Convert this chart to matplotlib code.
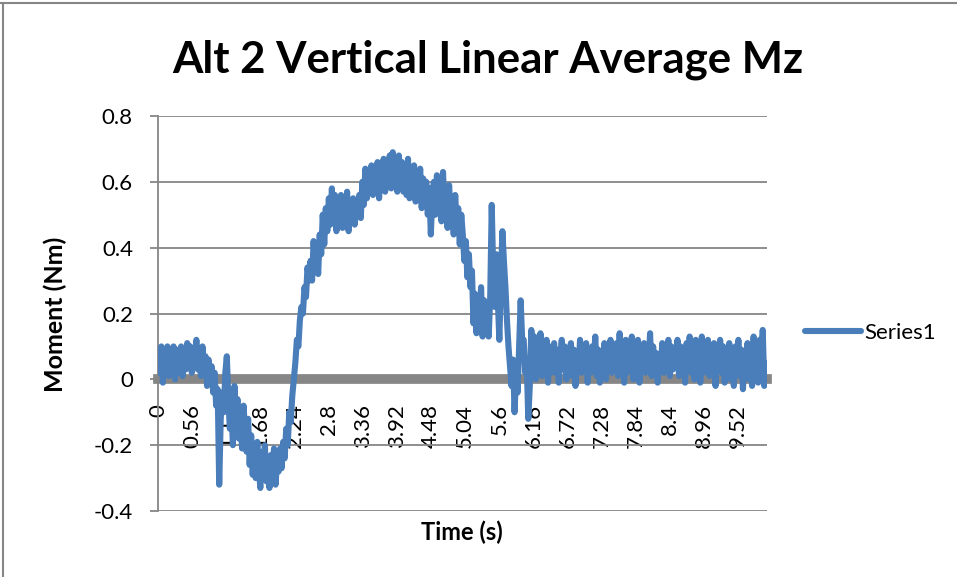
import matplotlib
matplotlib.use('Agg')
import matplotlib.pyplot as plt
from matplotlib.lines import Line2D
import numpy as np

# moment values, one every 0.025 s, 20 per row = 0.5 s
moment = [
    0.09, 0.02, 0.10, -0.01, 0.08, 0.03, 0.10, 0.01, 0.07, 0.04, 0.10, 0.00, 0.09, 0.02, 0.06, 0.10, 0.01, 0.08, 0.03, 0.11,
    0.04, 0.10, 0.02, 0.09, 0.05, 0.12, 0.03, 0.08, 0.01, 0.10, 0.04, 0.07, -0.02, 0.06, 0.00, 0.04, -0.04, 0.02, -0.08, -0.03,
    -0.32, -0.12, -0.04, -0.10, 0.02, 0.07, -0.06, -0.15, -0.08, -0.20, -0.02, -0.12, -0.06, -0.18, -0.10, -0.21, -0.08, -0.16, -0.22, -0.12,
    -0.26, -0.17, -0.29, -0.21, -0.30, -0.19, -0.27, -0.33, -0.22, -0.28, -0.20, -0.31, -0.24, -0.33, -0.23, -0.29, -0.21, -0.32, -0.25, -0.28,
    -0.21, -0.27, -0.19, -0.24, -0.15, -0.20, -0.10, -0.13, -0.05, 0.00, 0.05, 0.12, 0.10, 0.18, 0.22, 0.20, 0.28, 0.25, 0.34, 0.30,
    0.36, 0.30, 0.42, 0.34, 0.40, 0.32, 0.44, 0.38, 0.50, 0.41, 0.52, 0.45, 0.55, 0.47, 0.58, 0.49, 0.56, 0.45, 0.54, 0.47,
    0.56, 0.46, 0.53, 0.48, 0.57, 0.45, 0.52, 0.49, 0.55, 0.47, 0.53, 0.50, 0.56, 0.49, 0.60, 0.53, 0.64, 0.55, 0.62, 0.57,
    0.65, 0.56, 0.63, 0.58, 0.66, 0.55, 0.64, 0.59, 0.67, 0.57, 0.65, 0.60, 0.68, 0.58, 0.69, 0.60, 0.66, 0.57, 0.68, 0.59,
    0.66, 0.57, 0.64, 0.56, 0.67, 0.55, 0.63, 0.58, 0.65, 0.54, 0.62, 0.56, 0.64, 0.52, 0.61, 0.55, 0.60, 0.50, 0.58, 0.44,
    0.56, 0.60, 0.50, 0.62, 0.53, 0.59, 0.48, 0.63, 0.52, 0.57, 0.46, 0.59, 0.50, 0.55, 0.44, 0.56, 0.47, 0.52, 0.41, 0.50,
    0.44, 0.36, 0.42, 0.31, 0.38, 0.28, 0.33, 0.17, 0.26, 0.14, 0.22, 0.16, 0.28, 0.13, 0.24, 0.15, 0.22, 0.13, 0.25, 0.53,
    0.32, 0.22, 0.38, 0.24, 0.12, 0.30, 0.45, 0.36, 0.28, 0.18, 0.10, 0.04, -0.02, 0.06, -0.10, 0.02, -0.04, 0.10, 0.24, 0.12,
    0.12, 0.02, 0.05, -0.12, -0.02, 0.15, 0.03, 0.13, 0.00, 0.11, 0.04, 0.14, 0.01, 0.09, 0.03, 0.12, -0.01, 0.10, 0.02, 0.08,
    0.11, 0.02, 0.09, -0.01, 0.07, 0.12, 0.03, 0.10, 0.00, 0.08, 0.05, 0.11, 0.01, 0.09, -0.02, 0.07, 0.03, 0.12, 0.02, 0.10,
    0.04, 0.11, -0.01, 0.08, 0.02, 0.10, 0.05, 0.13, 0.01, 0.09, -0.01, 0.07, 0.03, 0.11, 0.00, 0.08, 0.04, 0.12, 0.02, 0.09,
    0.03, 0.11, 0.01, 0.14, 0.04, 0.10, -0.01, 0.12, 0.02, 0.09, 0.05, 0.13, 0.00, 0.10, 0.03, 0.12, -0.01, 0.08, 0.04, 0.11,
    0.02, 0.09, 0.04, 0.14, 0.01, 0.10, 0.05, 0.08, -0.01, 0.07, 0.03, 0.11, 0.02, 0.09, 0.04, 0.12, 0.01, 0.10, 0.03, 0.08,
    0.05, 0.12, 0.01, 0.10, 0.03, 0.09, -0.01, 0.11, 0.04, 0.13, 0.02, 0.10, 0.00, 0.12, 0.03, 0.09, -0.01, 0.13, 0.02, 0.10,
    0.04, 0.12, 0.01, 0.09, 0.03, 0.11, -0.02, 0.08, 0.04, 0.12, 0.02, 0.10, -0.01, 0.07, 0.03, 0.11, 0.00, 0.09, -0.02, 0.10,
    0.03, 0.12, 0.01, 0.09, -0.03, 0.08, 0.04, 0.11, 0.00, 0.10, -0.02, 0.13, 0.02, 0.09, -0.01, 0.12, 0.04, 0.15, -0.02, 0.05,
]
dt = 0.025
time = np.arange(len(moment)) * dt

xtick_vals = [0, 0.56, 1.12, 1.68, 2.24, 2.8, 3.36, 3.92, 4.48, 5.04,
              5.6, 6.16, 6.72, 7.28, 7.84, 8.4, 8.96, 9.52]
ytick_vals = [-0.4, -0.2, 0, 0.2, 0.4, 0.6, 0.8]
ytick_labels = ['-0.4', '-0.2', '0', '0.2', '0.4', '0.6', '0.8']

plt.rcParams['font.family'] = ['Lato', 'DejaVu Sans']
grey = '#868686'
blue = '#4A7EBB'

fig = plt.figure(figsize=(9.57, 5.77), dpi=100)
ax = fig.add_axes([158/957, 1-511/577, (767-158)/957, (511-116)/577])

# category axis sits on zero, thick grey line
ax.spines['bottom'].set_position(('data', 0))
ax.spines['bottom'].set_color(grey)
ax.spines['bottom'].set_linewidth(7)
ax.spines['bottom'].set_zorder(2)
for s in ['top', 'right']:
    ax.spines[s].set_visible(False)
ax.spines['left'].set_color(grey)
ax.spines['left'].set_linewidth(1.3)

ax.plot(time, moment, color=blue, linewidth=4.4, solid_joinstyle='round',
        solid_capstyle='round', label='Series1', zorder=3)

ax.set_xlim(-0.005, 9.995)
ax.set_ylim(-0.4, 0.8)
ax.set_yticks(ytick_vals)
ax.set_yticklabels(ytick_labels, fontsize=16)
ax.set_xticks(xtick_vals)
ax.set_xticklabels([f'{v:g}' for v in xtick_vals], fontsize=16)

ax.yaxis.grid(True, color=grey, linewidth=1.3)
ax.set_axisbelow(True)
ax.tick_params(axis='y', length=6, color=grey, width=1.3, pad=12)
ax.tick_params(axis='x', length=0, pad=18, labelrotation=90)

fig.text(55/957, 1-314/577, 'Moment (Nm)', fontsize=18, fontweight='bold',
         rotation=90, ha='center', va='center')
fig.text(462/957, 1-532/577, 'Time (s)', fontsize=17, fontweight='bold',
         ha='center', va='center')
fig.text(488/957, 1-60/577, 'Alt 2 Vertical Linear Average Mz', fontsize=31.5,
         fontweight='bold', ha='center', va='center')

ax.legend(loc='center left', bbox_to_anchor=((805-158)/609, (511-333)/395),
          frameon=False, fontsize=16, handlelength=2.5, handletextpad=0.15,
          borderpad=0, borderaxespad=0)

# outer chart border (top and left edges visible)
fig.add_artist(Line2D([0, 1], [1-3/577, 1-3/577], color=grey, linewidth=1.5))
fig.add_artist(Line2D([3/957, 3/957], [0, 1-3/577], color=grey, linewidth=1.5))

fig.savefig('out.png', dpi=100)
